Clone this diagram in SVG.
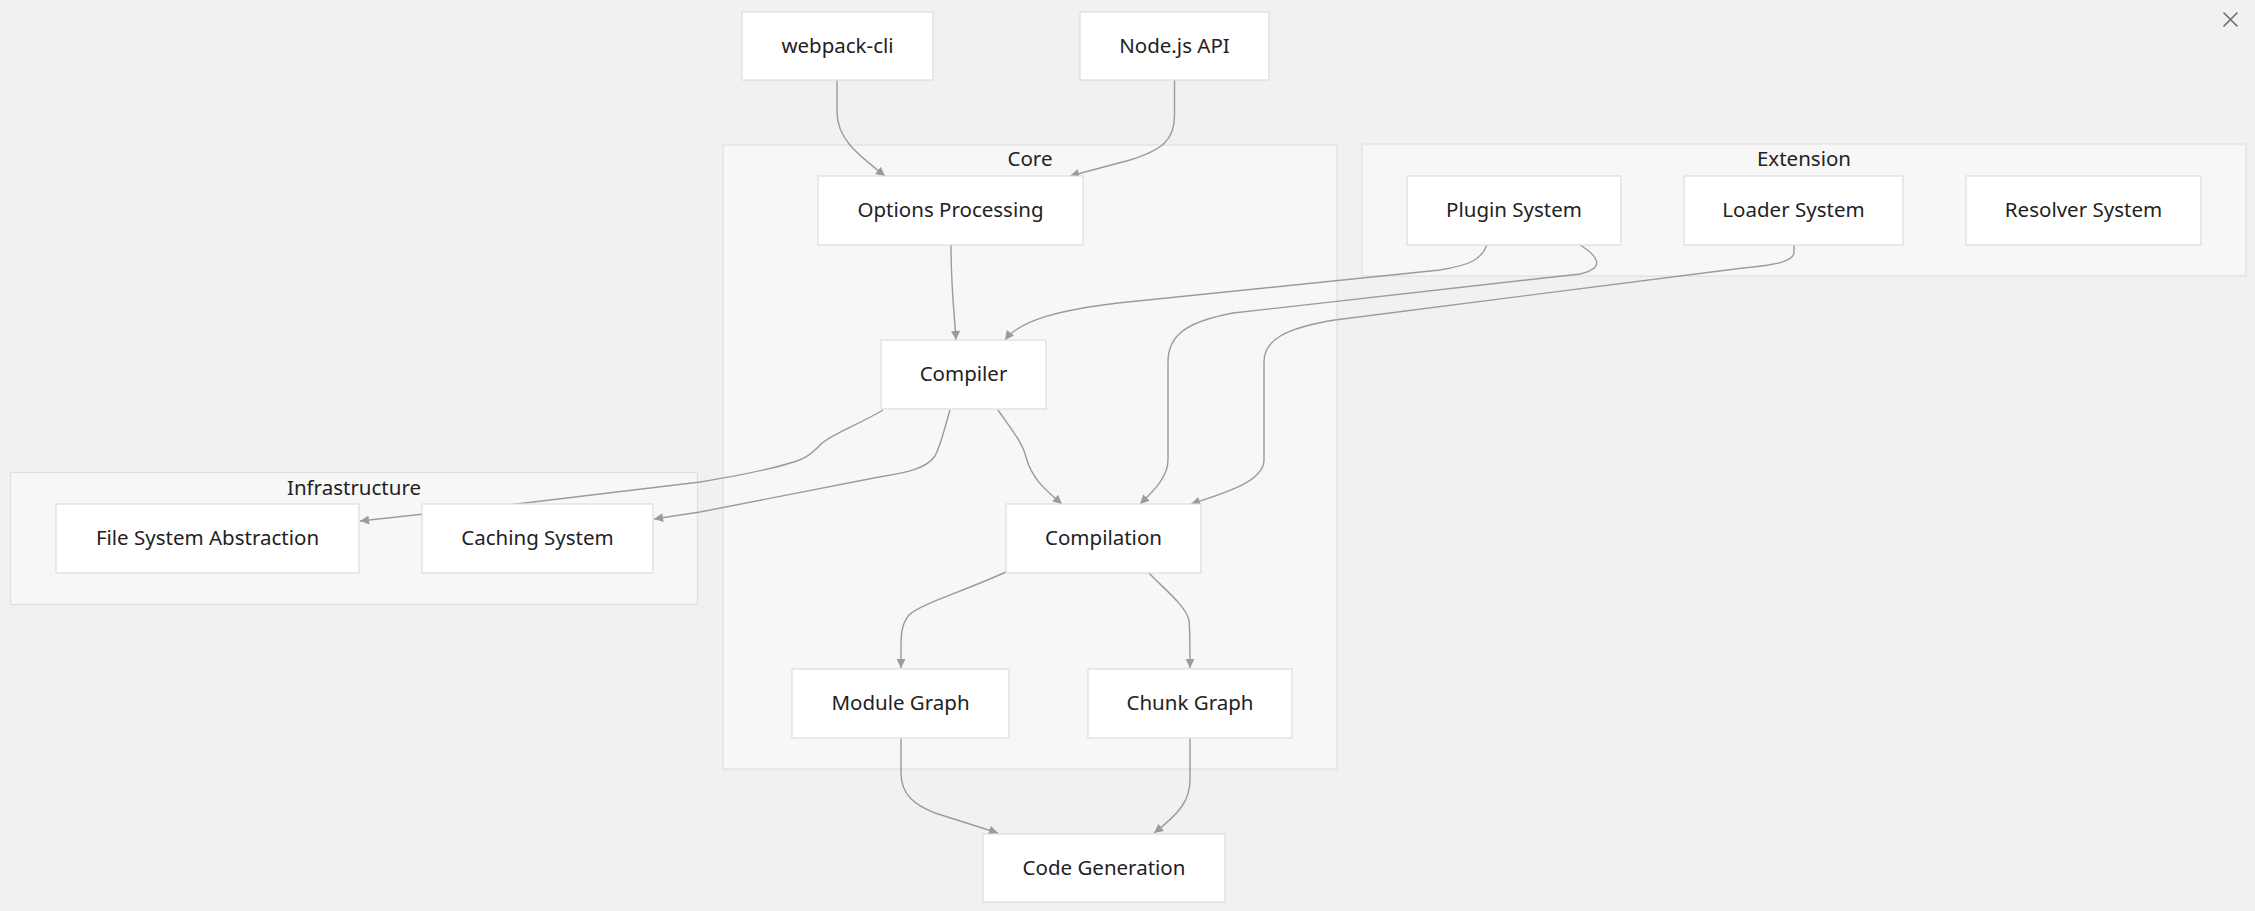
<svg xmlns="http://www.w3.org/2000/svg" width="2255" height="911" viewBox="0 0 2255 911">
<style>
.bg{fill:#f2f1ef}
.cluster rect{fill:#f7f7f7;stroke:#e0e0e0;stroke-width:1.2}
.node rect{fill:#ffffff;stroke:#dddddd;stroke-width:1.2}
text{font-family:"Noto Sans","Open Sans","DejaVu Sans",sans-serif;font-size:20.5px;fill:#222222;text-anchor:middle;dominant-baseline:central}
.edges path{fill:none;stroke:#9b9b9b;stroke-width:1.4}
.close{stroke:#6e6e6e;stroke-width:1.6;fill:none}
</style>
<defs>
<marker id="arrow" viewBox="0 0 10 10" refX="10" refY="5" markerWidth="10" markerHeight="9" markerUnits="userSpaceOnUse" orient="auto">
<path d="M0,0 L10,5 L0,10 z" fill="#9b9b9b"/>
</marker>
</defs>
<rect class="bg" x="0" y="0" width="2255" height="911"/>
<path class="close" d="M2223.5,12.5 L2237.5,26.5 M2237.5,12.5 L2223.5,26.5"/>

<g id="cluster-core" class="cluster">
<rect x="723" y="145" width="614" height="624"/>
<text x="1030" y="158">Core</text>
</g>
<g id="cluster-extension" class="cluster">
<rect x="1362" y="144" width="884" height="132"/>
<text x="1804" y="157.5">Extension</text>
</g>
<g id="cluster-infrastructure" class="cluster">
<rect x="10.5" y="472.5" width="687" height="132"/>
<text x="354" y="486.5">Infrastructure</text>
</g>

<g id="edges" class="edges">
<path marker-end="url(#arrow)" d="M837,80 V112 C837,140 860,156 885,176"/>
<path marker-end="url(#arrow)" d="M1174.5,80 V116 C1174.5,140 1162,150 1130,160 L1070,176"/>
<path marker-end="url(#arrow)" d="M951,245 C951,290 955,320 956,340"/>
<path marker-end="url(#arrow)" d="M1487,245 C1481,260 1470,265 1440,270 L1118,303 C1060,310 1020,320 1005,340"/>
<path marker-end="url(#arrow)" d="M1580,245 C1598,256 1606,268 1580,274 L1233,313 C1185,322 1168,336 1168,362 V460 C1168,478 1152,492 1140,504"/>
<path marker-end="url(#arrow)" d="M1794,245 V252 C1794,262 1775,265 1743,268 L1335,320 C1285,328 1264,340 1264,362 V460 C1264,482 1222,494 1191,504"/>
<path marker-end="url(#arrow)" d="M998,410 C1012,430 1022,442 1026,457 C1032,480 1048,492 1062,504"/>
<path marker-end="url(#arrow)" d="M883,410 C860,424 832,434 821,444 C810,456 802,460 790,463 C770,470 735,476 700,482 L525,503 L360,521"/>
<path marker-end="url(#arrow)" d="M950,410 C944,430 941,445 935,456 C926,469 905,473 879,477 L700,512 L654,519"/>
<path marker-end="url(#arrow)" d="M1006,572 C962,592 920,604 909,615 C901,625 901,635 901,650 L901,668"/>
<path marker-end="url(#arrow)" d="M1149,573 C1165,590 1185,605 1189,620 C1190,630 1190,640 1190,668"/>
<path marker-end="url(#arrow)" d="M901,738 V773 C901,795 915,805 935,813 L998,833"/>
<path marker-end="url(#arrow)" d="M1190,738 V780 C1190,800 1180,813 1154,833"/>
</g>

<g id="node-webpack-cli" class="node"><rect x="742" y="12" width="191" height="68"/><text x="837.5" y="44.5">webpack-cli</text></g>
<g id="node-nodejs-api" class="node"><rect x="1080" y="12" width="189" height="68"/><text x="1174.5" y="44.5">Node.js API</text></g>
<g id="node-options" class="node"><rect x="818" y="176" width="265" height="69"/><text x="950.5" y="209">Options Processing</text></g>
<g id="node-compiler" class="node"><rect x="881" y="340" width="165" height="69"/><text x="963.5" y="373">Compiler</text></g>
<g id="node-compilation" class="node"><rect x="1006" y="504" width="195" height="69"/><text x="1103.5" y="537">Compilation</text></g>
<g id="node-module-graph" class="node"><rect x="792" y="669" width="217" height="69"/><text x="900.5" y="702">Module Graph</text></g>
<g id="node-chunk-graph" class="node"><rect x="1088" y="669" width="204" height="69"/><text x="1190" y="702">Chunk Graph</text></g>
<g id="node-code-generation" class="node"><rect x="983" y="834" width="242" height="68"/><text x="1104" y="866.5">Code Generation</text></g>
<g id="node-plugin" class="node"><rect x="1407" y="176" width="214" height="69"/><text x="1514" y="209">Plugin System</text></g>
<g id="node-loader" class="node"><rect x="1684" y="176" width="219" height="69"/><text x="1793.5" y="209">Loader System</text></g>
<g id="node-resolver" class="node"><rect x="1966" y="176" width="235" height="69"/><text x="2083.5" y="209">Resolver System</text></g>
<g id="node-fsa" class="node"><rect x="56" y="504" width="303" height="69"/><text x="207.5" y="537">File System Abstraction</text></g>
<g id="node-caching" class="node"><rect x="422" y="504" width="231" height="69"/><text x="537.5" y="537">Caching System</text></g>
</svg>
